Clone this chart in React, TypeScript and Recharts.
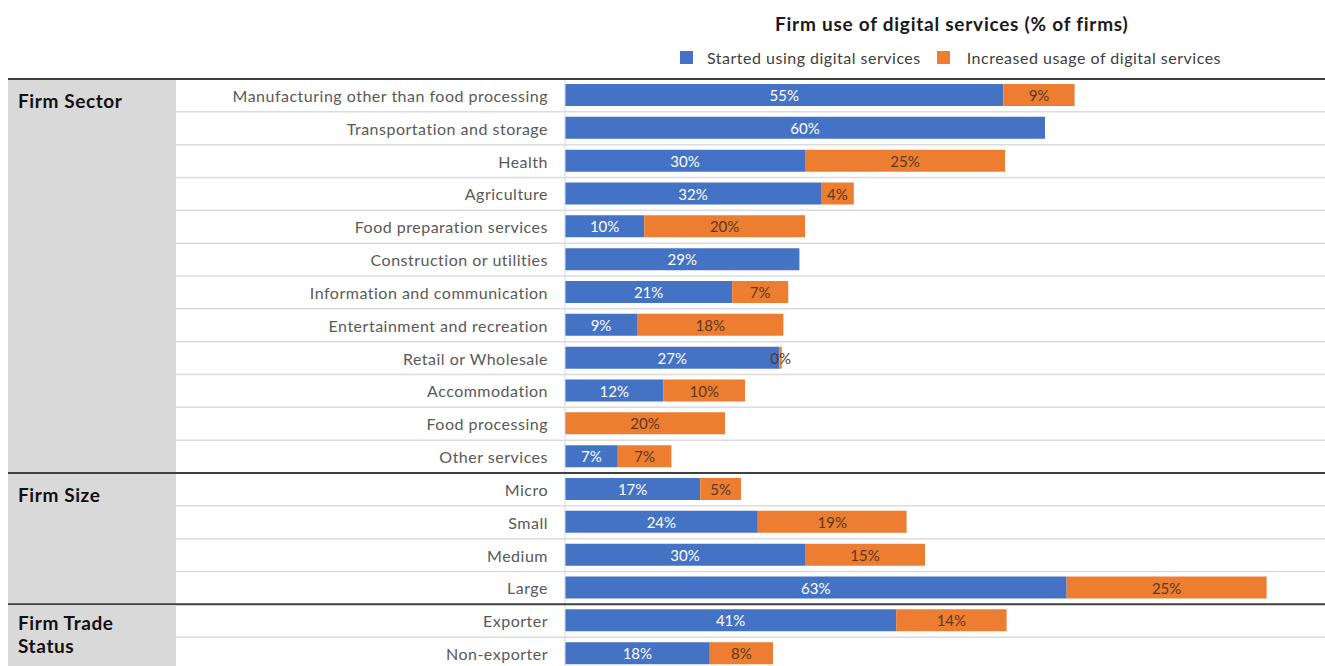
import React from 'react';
import { BarChart, Bar, XAxis, YAxis, Legend, LabelList } from 'recharts';

const categories = [
  'Manufacturing other than food processing',
  'Transportation and storage',
  'Health',
  'Agriculture',
  'Food preparation services',
  'Construction or utilities',
  'Information and communication',
  'Entertainment and recreation',
  'Retail or Wholesale',
  'Accommodation',
  'Food processing',
  'Other services',
  'Micro',
  'Small',
  'Medium',
  'Large',
  'Exporter',
  'Non-exporter',
];

const startedValues = [54.8, 60, 30, 32, 9.9, 29.3, 20.9, 9, 26.8, 12.3, 0, 6.6, 16.9, 24.1, 30, 62.7, 41.4, 18.1];
const increasedValues = [8.9, 0, 25, 4.1, 20.1, 0, 7, 18.3, 0.3, 10.2, 20, 6.7, 5.1, 18.6, 15, 25, 13.8, 7.9];

const groupNames = [['Firm Sector'], ['Firm Size'], ['Firm Trade', 'Status']];
const groupSizes = [12, 4, 2];

const seriesNames = ['Started using digital services', 'Increased usage of digital services'];
const title = 'Firm use of digital services (% of firms)';

const BLUE = '#4472c4';
const ORANGE = '#ed7d31';
const FONT = 'Lato, "Open Sans", sans-serif';

const W = 1325;
const H = 670;
const TOP = 79;
const ROW_H = (H - TOP) / categories.length;

const data = categories.map((name, i) => ({
  name,
  started: startedValues[i],
  increased: increasedValues[i],
}));

const groupStarts: number[] = [];
const groupEnds: number[] = [];
{
  let acc = 0;
  groupSizes.forEach((s) => {
    groupStarts.push(acc);
    acc += s;
    groupEnds.push(acc - 1);
  });
}

const CategoryTick = (props: any) => {
  const { y, payload, index } = props;
  const top = y - ROW_H / 2;
  const bottom = y + ROW_H / 2;
  const gIdx = groupStarts.indexOf(index);
  const isEnd = groupEnds.includes(index);
  const parts: React.ReactNode[] = [];
  if (gIdx >= 0) {
    const span = groupSizes[gIdx] * ROW_H;
    parts.push(
      <rect key="bg" x={8} y={top + 1} width={168} height={span - 1} fill="#d9d9d9" />
    );
    const lines = groupNames[gIdx];
    parts.push(
      <text
        key="grp"
        x={18}
        y={lines.length > 1 ? y + 1 : y + 5}
        fontFamily={FONT}
        fontWeight={700}
        fontSize={19}
        letterSpacing={0.6}
        fill="#111"
        dominantBaseline="central"
      >
        {lines.map((l, k) => (
          <tspan key={k} x={18} dy={k === 0 ? 0 : 23}>
            {l}
          </tspan>
        ))}
      </text>
    );
  }
  if (index === 0) {
    parts.push(<line key="topline" x1={8} x2={W} y1={top} y2={top} stroke="#404040" strokeWidth={2} />);
  }
  if (isEnd) {
    parts.push(<line key="bl" x1={8} x2={W} y1={bottom} y2={bottom} stroke="#404040" strokeWidth={2} />);
  } else {
    parts.push(<line key="bl" x1={176} x2={W} y1={bottom} y2={bottom} stroke="#dcdcdc" strokeWidth={1.5} />);
  }
  parts.push(
    <text
      key="lbl"
      x={548}
      y={y}
      textAnchor="end"
      dominantBaseline="central"
      fontFamily={FONT}
      fontSize={16}
      letterSpacing={0.5}
      fill="#595959"
    >
      {payload.value}
    </text>
  );
  return <g>{parts}</g>;
};

const makeLabel = (color: string) => (props: any) => {
  const { x, y, width, height, value } = props;
  if (value === null || value === undefined || value === 0) return null;
  return (
    <text
      x={x + width / 2}
      y={y + height / 2}
      textAnchor="middle"
      dominantBaseline="central"
      fontFamily={FONT}
      fontSize={15}
      fill={color}
    >
      {Math.round(value)}%
    </text>
  );
};

const LegendContent = () => (
  <div style={{ display: 'flex', alignItems: 'center', fontFamily: FONT, fontSize: 16, letterSpacing: 0.5, color: '#404040', whiteSpace: 'nowrap' }}>
    <span style={{ display: 'inline-block', width: 13, height: 13, background: BLUE, marginRight: 14 }} />
    <span style={{ marginRight: 16 }}>{seriesNames[0]}</span>
    <span style={{ display: 'inline-block', width: 13, height: 13, background: ORANGE, marginRight: 17 }} />
    <span>{seriesNames[1]}</span>
  </div>
);

export default function App() {
  return (
    <div style={{ position: 'absolute', left: 0, top: 0, width: W, height: 666, overflow: 'hidden', background: '#fff' }}>
      <div
        style={{
          position: 'absolute',
          left: 775,
          top: 12,
          fontFamily: FONT,
          fontWeight: 700,
          fontSize: 19,
          letterSpacing: 0.75,
          color: '#1a1a1a',
          whiteSpace: 'nowrap',
        }}
      >
        {title}
      </div>
      <BarChart
        width={W}
        height={H}
        data={data}
        layout="vertical"
        margin={{ top: TOP, right: 0, bottom: 0, left: 0 }}
        barSize={22}
      >
        <XAxis type="number" domain={[0, 95]} hide />
        <YAxis
          type="category"
          dataKey="name"
          width={565}
          tickLine={false}
          axisLine={{ stroke: '#d0d8e8', strokeWidth: 1 }}
          tick={<CategoryTick />}
          interval={0}
        />
        <Legend
          layout="horizontal"
          verticalAlign="middle"
          align="center"
          content={<LegendContent />}
          wrapperStyle={{ top: 48, left: 680, width: 'auto' }}
        />
        <Bar dataKey="started" name={seriesNames[0]} stackId="a" fill={BLUE} isAnimationActive={false}>
          <LabelList dataKey="started" content={makeLabel('#ffffff')} />
        </Bar>
        <Bar dataKey="increased" name={seriesNames[1]} stackId="a" fill={ORANGE} isAnimationActive={false}>
          <LabelList dataKey="increased" content={makeLabel('#5a3a1e')} />
        </Bar>
      </BarChart>
    </div>
  );
}
